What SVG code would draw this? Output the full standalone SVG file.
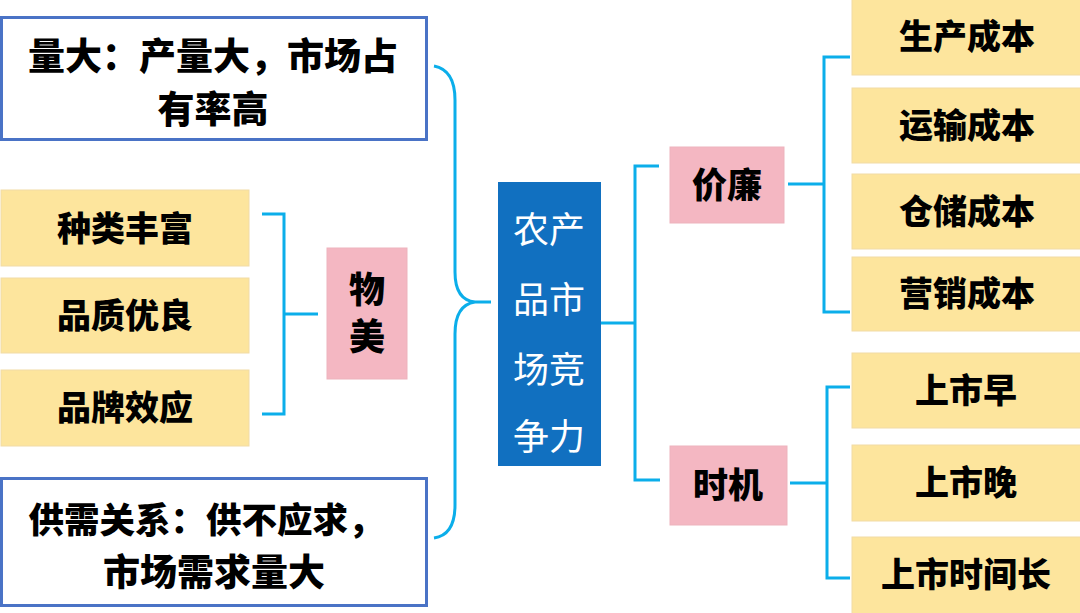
<svg xmlns="http://www.w3.org/2000/svg" width="1080" height="613" viewBox="0 0 1080 613">
<style>
text{font-family:"Noto Sans CJK SC","Noto Sans",sans-serif;text-anchor:middle;dominant-baseline:central}
.b{font-weight:900;fill:#000}
.c{fill:none;stroke:#0BAEEA;stroke-width:3}
.y{fill:#FDE59D;stroke:#F1DBA6;stroke-width:1}
.p{fill:#F4B7C2;stroke:#EDB3BD;stroke-width:1}
.w{fill:#fff;stroke:#4A73C6;stroke-width:3}
</style>
<rect width="1080" height="613" fill="#fff"/>
<g id="connectors">
<path class="c" d="M434,66 Q455,70 455,100 L455,272 Q455,300 475,302 L491,302 M475,302 Q455,305 455,334 L455,505 Q455,535 434,538"/>
<path class="c" d="M601,323 L635,323 M659,166 L635,166 L635,480 L660,480"/>
<path class="c" d="M788,184 L824,184 M850,57 L824,57 L824,312 L850,312"/>
<path class="c" d="M790,483 L827,483 M850,387 L827,387 L827,578 L850,578"/>
<path class="c" d="M262,214 L284,214 L284,414 L262,414 M284,314 L318,314"/>
</g>
<g id="n-top"><rect class="w" x="1.5" y="17.5" width="425" height="122"/>
<text class="b" x="213" y="54" font-size="37">量大：产量大，市场占</text>
<text class="b" x="213" y="107" font-size="37">有率高</text></g>
<g id="n-bottom"><rect class="w" x="1.5" y="478.5" width="425" height="127"/>
<text class="b" x="206" y="517" font-size="35.5">供需关系：供不应求，</text>
<text class="b" x="214" y="570" font-size="37">市场需求量大</text></g>
<g id="n-center"><rect x="498" y="182" width="103" height="284" fill="#1170C0"/>
<text x="549" y="227" font-size="36" fill="#fff">农产</text>
<text x="549" y="297" font-size="36" fill="#fff">品市</text>
<text x="549" y="367" font-size="36" fill="#fff">场竞</text>
<text x="549" y="434" font-size="36" fill="#fff">争力</text></g>
<g id="n-wumei"><rect class="p" x="327" y="248" width="80" height="131"/>
<text class="b" x="367" y="287" font-size="36">物</text>
<text class="b" x="367" y="334" font-size="36">美</text></g>
<g id="n-l1"><rect class="y" x="1" y="190" width="248" height="76"/><text class="b" x="125" y="226" font-size="34">种类丰富</text></g>
<g id="n-l2"><rect class="y" x="1" y="278" width="248" height="75"/><text class="b" x="125" y="313" font-size="34">品质优良</text></g>
<g id="n-l3"><rect class="y" x="1" y="370" width="248" height="76"/><text class="b" x="125" y="405" font-size="34">品牌效应</text></g>
<g id="n-jialian"><rect class="p" x="670" y="147" width="114" height="76"/><text class="b" x="727" y="182" font-size="35">价廉</text></g>
<g id="n-shiji"><rect class="p" x="670" y="446" width="117" height="79"/><text class="b" x="728" y="482" font-size="35">时机</text></g>
<g id="n-r1"><rect class="y" x="852" y="-2" width="230" height="77"/><text class="b" x="967" y="34" font-size="34">生产成本</text></g>
<g id="n-r2"><rect class="y" x="852" y="88" width="230" height="75"/><text class="b" x="967" y="123" font-size="34">运输成本</text></g>
<g id="n-r3"><rect class="y" x="852" y="174" width="230" height="75"/><text class="b" x="967" y="209" font-size="34">仓储成本</text></g>
<g id="n-r4"><rect class="y" x="852" y="257" width="230" height="74"/><text class="b" x="967" y="291" font-size="34">营销成本</text></g>
<g id="n-r5"><rect class="y" x="852" y="353" width="230" height="75"/><text class="b" x="966" y="388" font-size="34">上市早</text></g>
<g id="n-r6"><rect class="y" x="852" y="445" width="230" height="76"/><text class="b" x="966" y="480" font-size="34">上市晚</text></g>
<g id="n-r7"><rect class="y" x="852" y="537" width="230" height="78"/><text class="b" x="966" y="572" font-size="34">上市时间长</text></g>
</svg>
